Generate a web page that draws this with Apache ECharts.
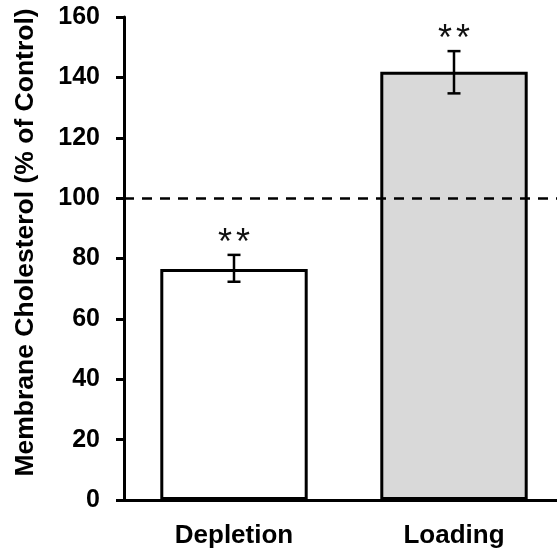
<!DOCTYPE html>
<html>
<head>
<meta charset="utf-8">
<script src="https://cdn.jsdelivr.net/npm/echarts@6/dist/echarts.min.js"></script>
<style>
  html, body { margin: 0; padding: 0; background: #fff; }
  #chart { width: 557px; height: 553px; }
</style>
</head>
<body>
<div id="chart"></div>
<script>
const categories = ['Depletion', 'Loading']
const means = [76.5, 141.9]
const errLow = [72.3, 134.7]
const errHigh = [81.2, 148.7]
const barColors = ['#ffffff', '#d9d9d9']
const starCount = [2, 2]
const controlLevel = 100

const font = 'Arial, "Liberation Sans", sans-serif'

const chart = echarts.init(document.getElementById('chart'))

chart.setOption({
  animation: false,
  grid: {
    left: 124,
    top: 17,
    bottom: 53,
    width: 440,
    outerBoundsMode: 'none',
    containLabel: false
  },
  xAxis: {
    type: 'category',
    data: categories,
    axisLine: { lineStyle: { color: '#000', width: 3 } },
    axisTick: { show: false },
    axisLabel: {
      color: '#000',
      fontFamily: font,
      fontWeight: 'bold',
      fontSize: 26,
      margin: 23
    }
  },
  yAxis: {
    type: 'value',
    min: 0,
    max: 160,
    interval: 20,
    name: 'Membrane Cholesterol (% of Control)',
    nameLocation: 'middle',
    nameRotate: 90,
    nameGap: 85,
    nameTextStyle: {
      color: '#000',
      fontFamily: font,
      fontWeight: 'bold',
      fontSize: 26.5,
      padding: [0, 0, 0, 32]
    },
    splitLine: { show: false },
    axisLine: { show: true, lineStyle: { color: '#000', width: 3 } },
    axisTick: { show: true, length: 8, lineStyle: { color: '#000', width: 3 } },
    axisLabel: {
      color: '#000',
      fontFamily: font,
      fontWeight: 'bold',
      fontSize: 25,
      margin: 24
    }
  },
  series: [
    {
      type: 'bar',
      barWidth: '67%',
      data: means.map((v, i) => ({
        value: v,
        itemStyle: { color: barColors[i] }
      })),
      itemStyle: { borderColor: '#000', borderWidth: 3 },
      markLine: {
        silent: true,
        symbol: 'none',
        label: { show: false },
        lineStyle: { color: '#000', type: [10, 8], width: 2.5 },
        data: [{ yAxis: controlLevel }]
      },
      z: 2
    },
    {
      type: 'custom',
      data: categories.map((c, i) => [i, errLow[i], errHigh[i]]),
      renderItem(params, api) {
        const i = api.value(0)
        const lo = api.coord([i, api.value(1)])
        const hi = api.coord([i, api.value(2)])
        const x = lo[0]
        const cap = 6.5
        const style = { stroke: '#000', lineWidth: 2.5 }
        const children = [
          { type: 'line', shape: { x1: x, y1: lo[1], x2: x, y2: hi[1] }, style },
          { type: 'line', shape: { x1: x - cap, y1: lo[1], x2: x + cap, y2: lo[1] }, style },
          { type: 'line', shape: { x1: x - cap, y1: hi[1], x2: x + cap, y2: hi[1] }, style }
        ]
        // significance stars, spaced apart like the original
        const n = starCount[params.dataIndex]
        for (let k = 0; k < n; k++) {
          children.push({
            type: 'text',
            style: {
              text: '*',
              x: x + (k - (n - 1) / 2) * 18,
              y: hi[1] - 11,
              align: 'center',
              verticalAlign: 'middle',
              fill: '#111',
              font: '36px ' + font
            }
          })
        }
        return { type: 'group', children }
      },
      z: 5
    }
  ]
})
</script>
</body>
</html>
